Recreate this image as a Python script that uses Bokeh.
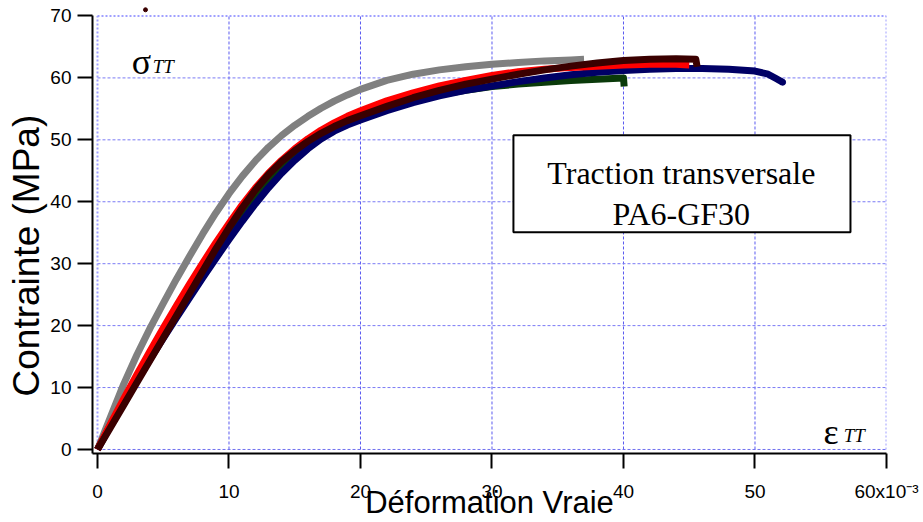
from bokeh.plotting import figure
from bokeh.models import Range1d, FixedTicker, Label, BoxAnnotation, Title
from bokeh.embed import file_html
from bokeh.resources import INLINE

# ---- data ----
x_ticks = [0, 10, 20, 30, 40, 50, 60]
y_ticks = [0, 10, 20, 30, 40, 50, 60, 70]

gray_strain = [0, 1, 2, 3, 4, 5, 6, 7, 8, 9, 10, 11, 12, 13, 14, 15, 16, 17, 18, 19, 20,
               22, 24, 26, 28, 30, 32, 34, 36, 37]
gray_stress = [0, 5.3, 10.6, 15.3, 19.6, 23.6, 27.5, 31.2, 34.8, 38.2, 41.3, 44.1, 46.6, 48.8,
               50.7, 52.35, 53.8, 55.1, 56.25, 57.25, 58.15, 59.6, 60.6, 61.3, 61.8, 62.2,
               62.5, 62.75, 62.9, 63.0]

red_strain = [0, 1, 2, 3, 4, 5, 6, 7, 8, 9, 10, 11, 12, 13, 14, 15, 16, 17, 18, 19, 20,
              22, 24, 26, 28, 30, 32, 34, 36, 38, 40, 42, 44, 45]
red_stress = [0, 4.2, 8.2, 12.1, 15.9, 19.6, 23.2, 26.7, 30.1, 33.4, 36.5, 39.5, 42.2, 44.6,
              46.7, 48.55, 50.15, 51.55, 52.75, 53.8, 54.7, 56.3, 57.6, 58.7, 59.6, 60.4,
              61.0, 61.4, 61.7, 61.9, 62.1, 62.2, 62.2, 62.1]

maroon_strain = [0, 1, 2, 3, 4, 5, 6, 7, 8, 9, 10, 11, 12, 13, 14, 15, 16, 17, 18, 19, 20,
                 22, 24, 26, 28, 30, 32, 34, 36, 38, 40, 42, 44, 45.5, 45.6]
maroon_stress = [0, 3.6, 7.2, 10.8, 14.4, 18.0, 21.6, 25.2, 28.8, 32.4, 35.8, 39.0, 41.9, 44.4,
                 46.5, 48.25, 49.75, 51.05, 52.15, 53.1, 53.9, 55.4, 56.8, 58.0, 59.0, 59.8,
                 60.6, 61.3, 61.9, 62.4, 62.8, 63.0, 63.1, 63.0, 61.8]

navy_strain = [0, 1, 2, 3, 4, 5, 6, 7, 8, 9, 10, 11, 12, 13, 14, 15, 16, 17, 18, 19, 20,
               22, 24, 26, 28, 30, 32, 34, 36, 38, 40, 42, 44, 46, 48, 50, 51, 51.6, 52.1]
navy_stress = [0, 3.9, 7.6, 11.15, 14.6, 17.95, 21.25, 24.5, 27.7, 30.85, 33.9, 36.85, 39.65,
               42.25, 44.6, 46.7, 48.55, 50.15, 51.4, 52.4, 53.2, 54.7, 56.0, 57.1, 58.0, 58.7,
               59.4, 60.0, 60.5, 60.9, 61.2, 61.4, 61.5, 61.5, 61.4, 61.1, 60.6, 59.9, 59.3]

green_strain = [0, 1, 2, 3, 4, 5, 6, 7, 8, 9, 10, 11, 12, 13, 14, 15, 16, 17, 18, 19, 20,
                22, 24, 26, 28, 30, 32, 34, 36, 38, 40, 40.05]
green_stress = [0, 4.0, 7.95, 11.75, 15.4, 18.9, 22.35, 25.75, 29.1, 32.35, 35.45, 38.4, 41.15,
                43.65, 45.85, 47.8, 49.5, 50.95, 52.15, 53.15, 54.0, 55.3, 56.4, 57.3, 58.0,
                58.6, 59.0, 59.3, 59.6, 59.8, 60.0, 58.6]

stray_strain = [3.65]
stray_stress = [71.0]

x_min, x_max = -0.38, 60.0
y_min, y_max = -0.65, 72.5

p = figure(width=923, height=522, output_backend="svg", toolbar_location=None,
           x_range=Range1d(x_min, x_max), y_range=Range1d(y_min, y_max),
           min_border_left=92, min_border_right=37, min_border_top=0, min_border_bottom=69)
p.outline_line_color = None
p.xgrid.visible = False
p.ygrid.visible = False
p.background_fill_color = "white"
p.border_fill_color = "white"

# grid lines (dotted blue), built from the tick lists
inner_x = [t for t in x_ticks if 0 < t < 60]
inner_y = [t for t in y_ticks if 0 < t < 70]
p.segment(x0=inner_x, y0=[0] * len(inner_x), x1=inner_x, y1=[70] * len(inner_x),
          line_color="#5a5af0", line_width=1, line_dash="3 2")
p.segment(x0=[0] * len(inner_y), y0=inner_y, x1=[60] * len(inner_y), y1=inner_y,
          line_color="#7a7af5", line_width=1, line_dash="3 2")
edge_x = [0, 60]
p.segment(x0=edge_x, y0=[0, 0], x1=edge_x, y1=[70, 70],
          line_color="#a0a0ff", line_width=2, line_dash="2 2")
p.segment(x0=[0], y0=[70], x1=[60], y1=[70], line_color="#a0a0ff", line_width=2, line_dash="2 2")
p.segment(x0=[0], y0=[0], x1=[60], y1=[0], line_color="#7070f0", line_width=1, line_dash="3 2")

lw = 7
p.line(gray_strain, gray_stress, line_color="#808080", line_width=lw, line_join="round")
p.line(green_strain, green_stress, line_color="#0a3a0a", line_width=lw, line_join="round")
p.line(navy_strain, navy_stress, line_color="#000066", line_width=lw, line_join="round")
p.line(red_strain, red_stress, line_color="#ff0000", line_width=lw, line_join="round")
p.line(maroon_strain, maroon_stress, line_color="#3a0000", line_width=lw, line_join="round")
p.scatter(stray_strain, stray_stress, size=4, color="#3a0000")
p.scatter([navy_strain[-1]], [navy_stress[-1]], size=6, color="#000066")

# axes
for ax in (p.xaxis[0], p.yaxis[0]):
    ax.axis_line_color = "black"
    ax.axis_line_width = 2
    ax.major_tick_line_color = "black"
    ax.major_tick_line_width = 2
    ax.major_tick_out = 15
    ax.major_tick_in = 0
    ax.minor_tick_line_color = None
    ax.major_label_text_font = "Liberation Sans"
    ax.major_label_text_font_size = "19px"
    ax.major_label_text_color = "black"

p.xaxis.ticker = FixedTicker(ticks=x_ticks)
p.yaxis.ticker = FixedTicker(ticks=y_ticks)
p.xaxis.bounds = (x_min, 60)
p.yaxis.bounds = (y_min, 70)
p.xaxis.major_label_overrides = {60: "60x10\u207b\u00b3"}
p.xaxis.major_label_standoff = 12
p.yaxis.major_label_standoff = 6

# x axis title
p.xaxis.axis_label = "Déformation Vraie"
p.xaxis.axis_label_text_font = "Liberation Sans"
p.xaxis.axis_label_text_font_size = "31px"
p.xaxis.axis_label_text_font_style = "normal"
p.xaxis.axis_label_text_color = "black"
p.xaxis.axis_label_standoff = -20

# y axis title as a side title, placed along the axis
p.add_layout(Title(text="Contrainte (MPa)", align="left", offset=57,
                   text_font="Liberation Sans", text_font_size="37px",
                   text_font_style="normal", text_color="black", standoff=2), "left")

# sigma / epsilon annotations
p.add_layout(Label(x=2.6, y=62.6, text="σ", text_font="Liberation Serif", text_color="black",
                   text_font_size="36px", text_baseline="alphabetic"))
p.add_layout(Label(x=4.2, y=61.8, text="TT", text_font="Liberation Serif", text_color="black",
                   text_font_style="italic", text_font_size="19px", text_baseline="alphabetic"))
p.add_layout(Label(x=55.2, y=2.8, text="ε", text_font="Liberation Serif", text_color="black",
                   text_font_size="36px", text_baseline="alphabetic"))
p.add_layout(Label(x=56.75, y=2.3, text="TT", text_font="Liberation Serif", text_color="black",
                   text_font_style="italic", text_font_size="19px", text_baseline="alphabetic"))

# legend-like box
p.add_layout(BoxAnnotation(left=31.63, right=57.26, top=50.73, bottom=35.06,
                           fill_color="white", fill_alpha=1.0,
                           line_color="black", line_width=2, line_alpha=1.0))
p.add_layout(Label(x=44.4, y=44.6, text="Traction transversale", text_font="Liberation Serif",
                   text_color="black", text_font_size="32px", text_align="center",
                   text_baseline="alphabetic"))
p.add_layout(Label(x=44.4, y=38.1, text="PA6-GF30", text_font="Liberation Serif",
                   text_color="black", text_font_size="32px", text_align="center",
                   text_baseline="alphabetic"))

open("out.html", "w").write(file_html(p, INLINE))
